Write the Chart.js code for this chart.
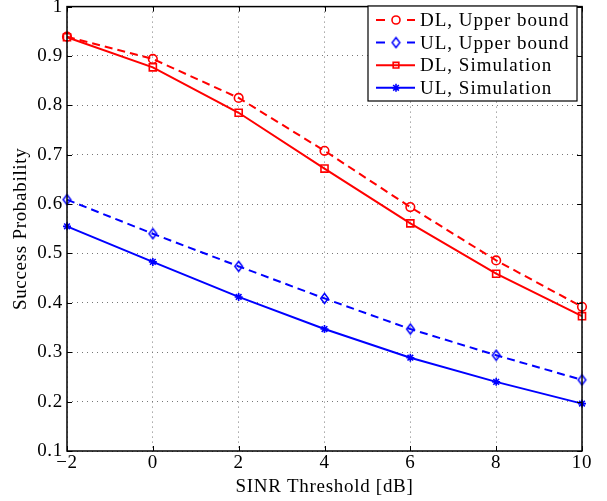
<!DOCTYPE html>
<html lang="en">
<head>
  <meta charset="UTF-8" />
  <title>Success Probability vs SINR Threshold</title>
  <script src="https://cdn.jsdelivr.net/npm/chart.js"></script>
  <style>
    html, body { margin: 0; padding: 0; background: #fff; }
    #wrap { width: 607px; height: 501px; }
  </style>
</head>
<body>
<div id="wrap"><canvas id="chart" width="607" height="501"></canvas></div>

<script>
// SINR thresholds in dB
const thresholds = [-2, 0, 2, 4, 6, 8, 10];

// success probabilities per curve
const dlUpper = [0.939, 0.894, 0.815, 0.708, 0.594, 0.486, 0.392];
const ulUpper = [0.609, 0.540, 0.474, 0.409, 0.347, 0.294, 0.244];
const dlSim   = [0.938, 0.877, 0.785, 0.672, 0.561, 0.459, 0.373];
const ulSim   = [0.555, 0.483, 0.412, 0.347, 0.289, 0.240, 0.196];

const seriesNames = ['DL, Upper bound', 'UL, Upper bound', 'DL, Simulation', 'UL, Simulation'];

const FONT = '"Liberation Serif", "DejaVu Serif", serif';
const RED = '#ff0000', BLUE = '#0000ff';

// tall open diamond marker
function diamond(color, hw, hh) {
  const c = document.createElement('canvas');
  c.width = Math.ceil(hw * 2 + 3); c.height = Math.ceil(hh * 2 + 3);
  const g = c.getContext('2d');
  const cx = c.width / 2, cy = c.height / 2;
  g.strokeStyle = color; g.lineWidth = 1.5;
  g.beginPath();
  g.moveTo(cx, cy - hh); g.lineTo(cx + hw, cy); g.lineTo(cx, cy + hh); g.lineTo(cx - hw, cy);
  g.closePath(); g.stroke();
  return c;
}

const pts = vals => vals.map((v, i) => ({ x: thresholds[i], y: v }));

function series(label, vals, color, marker, radius, dashed) {
  return {
    label, data: pts(vals),
    borderColor: color, backgroundColor: 'rgba(0,0,0,0)',
    borderWidth: 2, borderDash: dashed ? [8, 5] : [],
    pointStyle: marker, pointRadius: radius,
    pointBorderColor: color, pointBackgroundColor: 'rgba(0,0,0,0)',
    pointBorderWidth: 1.6, tension: 0, clip: false
  };
}

const datasets = [
  series(seriesNames[0], dlUpper, RED, 'circle', 4.3, true),
  series(seriesNames[1], ulUpper, BLUE, diamond(BLUE, 3.8, 5), 5, true),
  series(seriesNames[2], dlSim, RED, 'rect', 5, false),
  series(seriesNames[3], ulSim, BLUE, 'star', 4, false)
];

// wider glyph spacing for every label (canvas resets drop it, so reapply)
const SPACING = '0.7px';
const spacing = {
  id: 'spacing',
  beforeUpdate(chart) { chart.ctx.letterSpacing = SPACING; },
  beforeLayout(chart) { chart.ctx.letterSpacing = SPACING; },
  beforeDraw(chart) { chart.ctx.letterSpacing = SPACING; }
};

// box around the plot with inward tick marks, plus the legend
const frame = {
  id: 'frame',
  afterDatasetsDraw(chart) {
    const { ctx, chartArea: a, scales: { x, y } } = chart;
    ctx.save();
    ctx.strokeStyle = '#000';
    ctx.lineWidth = 1;
    ctx.beginPath();
    thresholds.forEach(t => {
      const px = Math.round(x.getPixelForValue(t)) + 0.5;
      ctx.moveTo(px, a.bottom); ctx.lineTo(px, a.bottom - 5);
      ctx.moveTo(px, a.top); ctx.lineTo(px, a.top + 5);
    });
    y.ticks.forEach(t => {
      const py = Math.round(y.getPixelForValue(t.value)) + 0.5;
      ctx.moveTo(a.left, py); ctx.lineTo(a.left + 5, py);
      ctx.moveTo(a.right, py); ctx.lineTo(a.right - 5, py);
    });
    ctx.stroke();
    ctx.lineWidth = 1.5;
    ctx.strokeRect(a.left, a.top, a.right - a.left, a.bottom - a.top);

    // legend
    const bx = 368, by = 6, bw = 209, bh = 95;
    ctx.fillStyle = '#fff';
    ctx.fillRect(bx, by, bw, bh);
    ctx.lineWidth = 1.2;
    ctx.strokeRect(bx, by, bw, bh);
    ctx.font = '19px ' + FONT;
    ctx.letterSpacing = '1px';
    ctx.textBaseline = 'middle';
    chart.data.datasets.forEach((ds, i) => {
      const ly = 20 + i * 22.6;
      ctx.strokeStyle = ds.borderColor;
      ctx.lineWidth = 2;
      ctx.beginPath();
      if (ds.borderDash.length) {
        ctx.moveTo(376, ly); ctx.lineTo(385, ly);
        ctx.moveTo(407, ly); ctx.lineTo(415, ly);
      } else {
        ctx.moveTo(376, ly); ctx.lineTo(415, ly);
      }
      ctx.stroke();
      ctx.lineWidth = 1.6;
      ctx.fillStyle = 'rgba(0,0,0,0)';
      const r = typeof ds.pointStyle === 'string' ? Math.min(ds.pointRadius, 4) : 4;
      Chart.helpers.drawPoint(ctx, { pointStyle: ds.pointStyle, radius: r, borderWidth: 1.6, rotation: 0 }, 396, ly);
      ctx.fillStyle = '#000';
      ctx.fillText(ds.label, 420, ly + 1);
    });
    ctx.restore();
  }
};

new Chart(document.getElementById('chart'), {
  type: 'line',
  data: { datasets },
  plugins: [spacing, frame],
  options: {
    responsive: false,
    animation: false,
    layout: { padding: { top: 5, right: 25, left: 0, bottom: 0 } },
    plugins: { legend: { display: false }, tooltip: { enabled: false } },
    scales: {
      x: {
        type: 'linear', min: -2, max: 10,
        afterFit: s => { s.height = 50; },
        ticks: {
          stepSize: 2, padding: 1, color: '#000',
          font: { family: FONT, size: 19 },
          callback: v => v < 0 ? '\u2212' + Math.abs(v) : String(v)
        },
        grid: { color: '#777', lineWidth: 1, drawTicks: false },
        border: { display: false, dash: [1, 4] },
        title: {
          display: true, text: 'SINR Threshold [dB]', color: '#000',
          font: { family: FONT, size: 19 }, padding: { top: 0, bottom: 3 }
        }
      },
      y: {
        min: 0.1, max: 1,
        afterFit: s => { s.width = 67; s.paddingTop = 0; s.paddingBottom = 0; },
        ticks: {
          stepSize: 0.1, padding: 4, color: '#000',
          font: { family: FONT, size: 19 },
          callback: v => String(Math.round(v * 10) / 10)
        },
        grid: { color: '#777', lineWidth: 1, drawTicks: false },
        border: { display: false, dash: [1, 4] },
        title: {
          display: true, text: 'Success Probability', color: '#000',
          font: { family: FONT, size: 19 }, padding: { top: 10, bottom: 0 }
        }
      }
    }
  }
});
</script>
</body>
</html>
